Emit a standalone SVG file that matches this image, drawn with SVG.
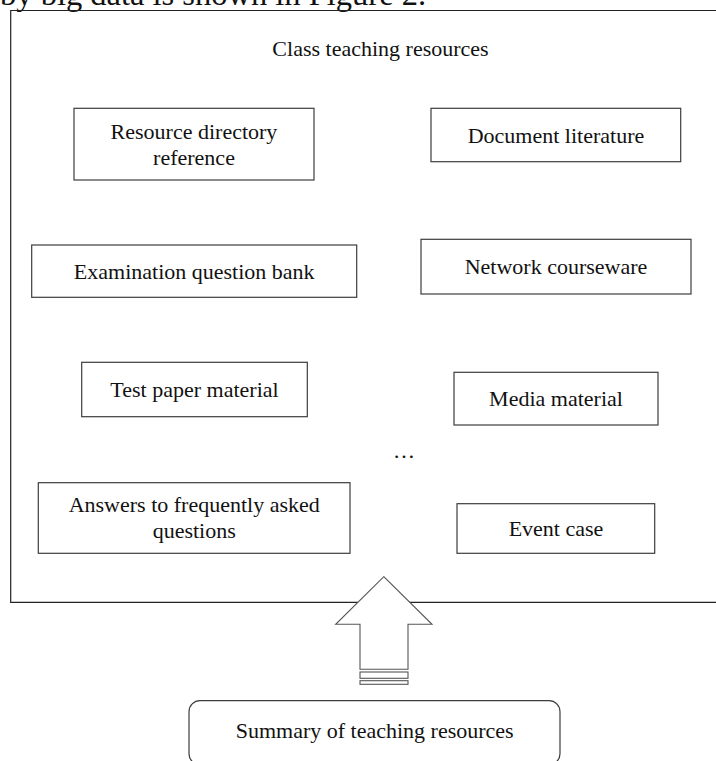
<svg xmlns="http://www.w3.org/2000/svg" width="716" height="761" viewBox="0 0 716 761">
<style>
text{font-family:"Liberation Serif","Times New Roman",serif;fill:#111;}
.lbl{font-size:22px;text-anchor:middle;}
.box{fill:#fff;stroke:#3c3c3c;stroke-width:1.2;}
.frame{fill:none;stroke:#222;stroke-width:1.2;}
.arrow{fill:#fff;stroke:#555;stroke-width:1.1;}
</style>
<rect x="0" y="0" width="716" height="761" fill="#fff"/>
<text x="0" y="5" style="font-size:32.5px;">by big data is shown in Figure 2.</text>
<g id="frame">
<path class="frame" d="M717 10.5 H10.7 V602.3 H717"/>
<text class="lbl" x="380.5" y="56">Class teaching resources</text>
</g>
<g id="n-resource">
<rect class="box" x="74" y="108.3" width="240" height="71.7"/>
<text class="lbl" x="194" y="138.5">Resource directory</text>
<text class="lbl" x="194" y="164.5">reference</text>
</g>
<g id="n-document">
<rect class="box" x="431" y="108.3" width="249.7" height="53.4"/>
<text class="lbl" x="556" y="142.7">Document literature</text>
</g>
<g id="n-exam">
<rect class="box" x="31.7" y="245" width="325" height="52.3"/>
<text class="lbl" x="194.2" y="279">Examination question bank</text>
</g>
<g id="n-network">
<rect class="box" x="421" y="239.3" width="270" height="54.7"/>
<text class="lbl" x="556" y="274.2">Network courseware</text>
</g>
<g id="n-test">
<rect class="box" x="81.7" y="362.3" width="225.6" height="54.4"/>
<text class="lbl" x="194.5" y="397">Test paper material</text>
</g>
<g id="n-media">
<rect class="box" x="454" y="372.3" width="204" height="52.7"/>
<text class="lbl" x="556" y="406.3">Media material</text>
</g>
<g id="n-ellipsis">
<text class="lbl" x="404" y="458">…</text>
</g>
<g id="n-answers">
<rect class="box" x="38.3" y="482.7" width="311.7" height="70.6"/>
<text class="lbl" x="194.2" y="512">Answers to frequently asked</text>
<text class="lbl" x="194.2" y="538">questions</text>
</g>
<g id="n-event">
<rect class="box" x="457" y="503.7" width="197.7" height="49.6"/>
<text class="lbl" x="556" y="536">Event case</text>
</g>
<g id="n-summary">
<rect class="box" x="189" y="700.7" width="371" height="64" rx="11" ry="11"/>
<text class="lbl" x="374.7" y="738.3">Summary of teaching resources</text>
</g>
<g id="connectors">
<path class="arrow" d="M383.8 576.7 L432 624.3 H408 V669.3 H360 V624.3 H335.7 Z"/>
<rect class="arrow" x="360" y="672" width="48" height="6.3"/>
<rect class="arrow" x="360" y="680.7" width="48" height="3.6"/>
</g>
</svg>
